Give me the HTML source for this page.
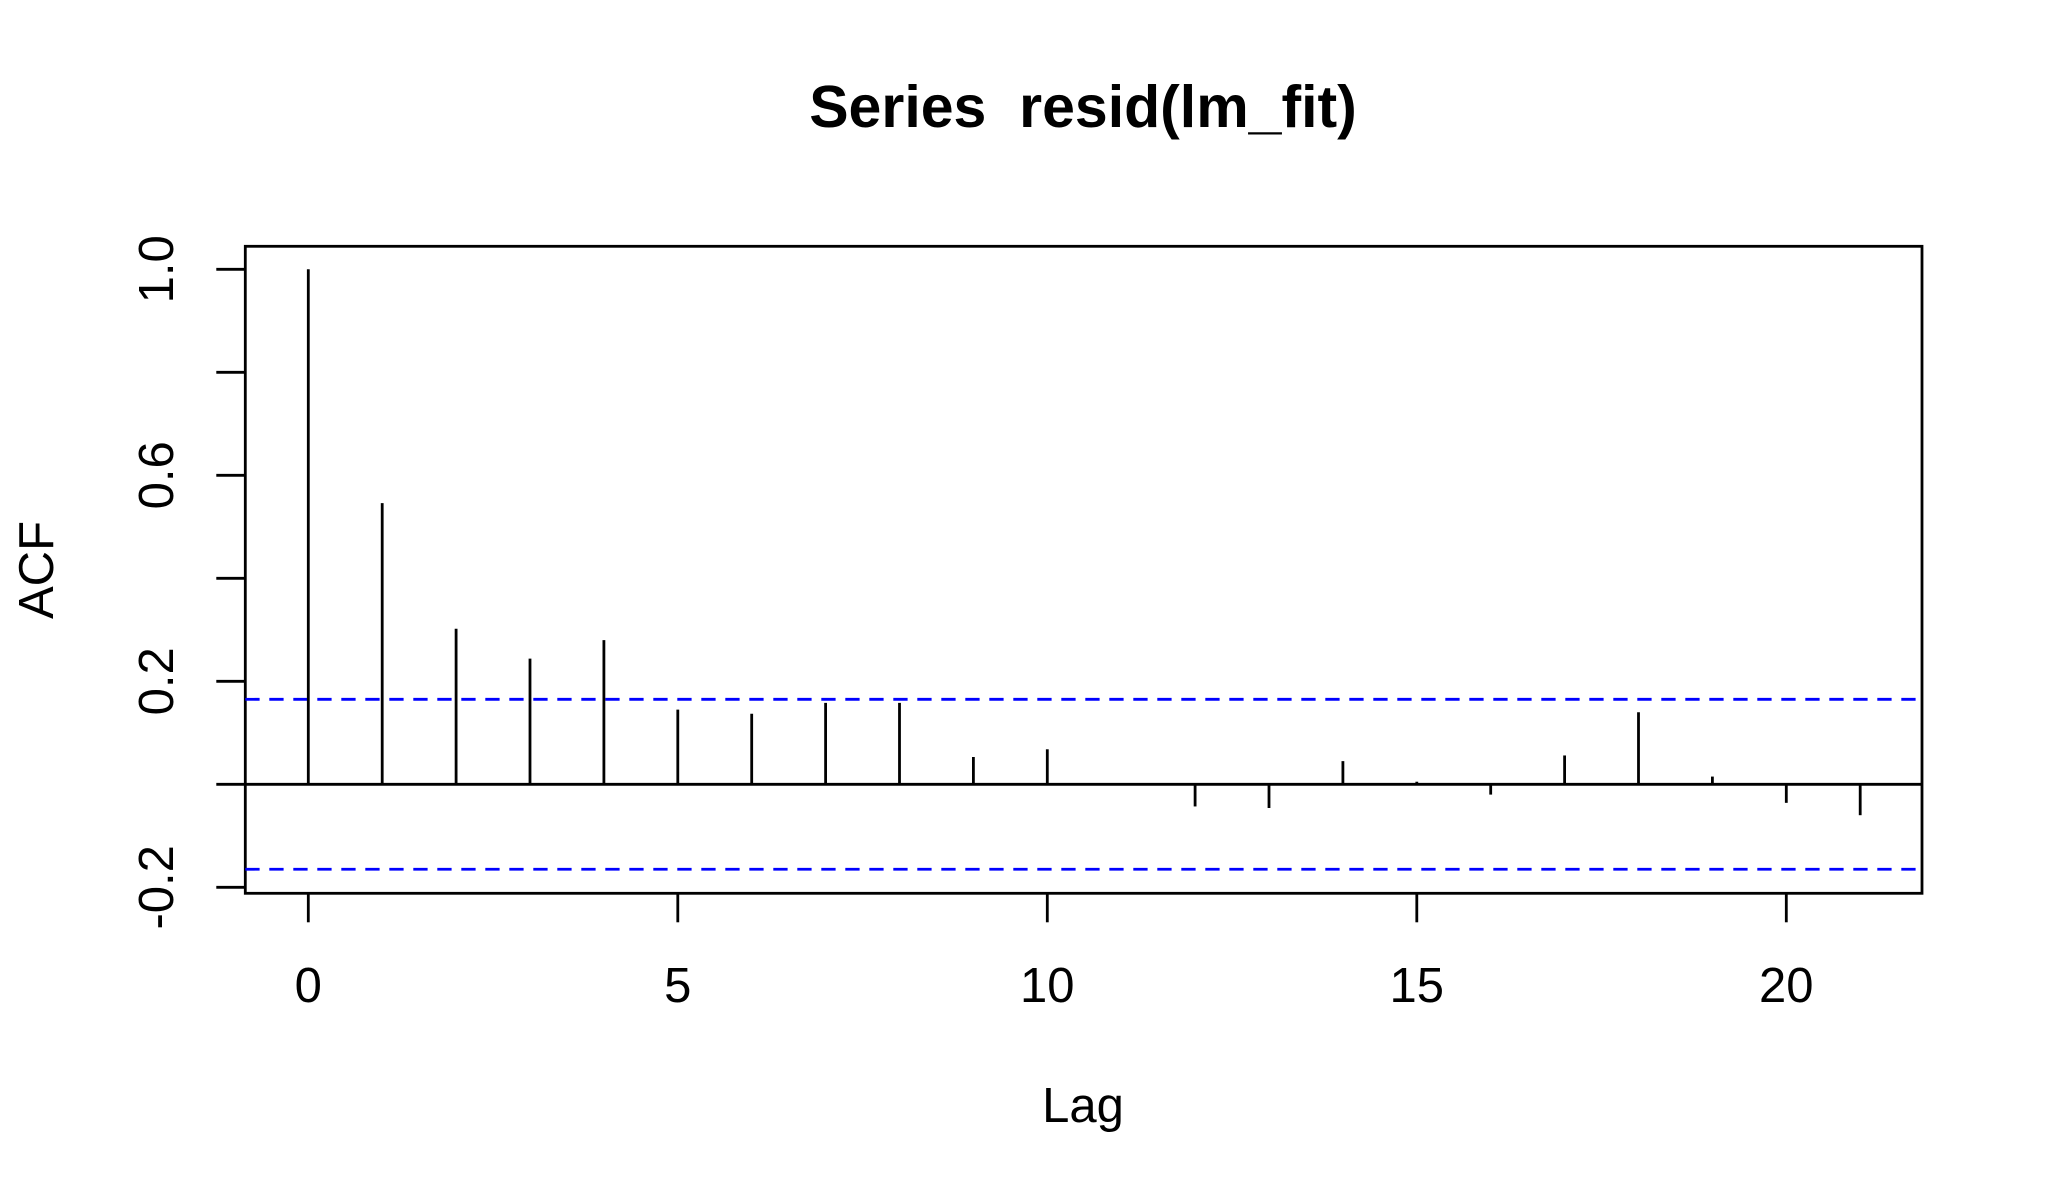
<!DOCTYPE html>
<html><head><meta charset="utf-8"><style>
html,body{margin:0;padding:0;background:#fff;}
svg{display:block;font-family:"Liberation Sans",Arial,sans-serif;}
</style></head><body>
<svg id="chart" width="2049" height="1200" viewBox="0 0 2049 1200" xmlns="http://www.w3.org/2000/svg">
<rect x="0" y="0" width="2049" height="1200" fill="#fff"/>
<text x="1083" y="127" font-size="59" font-weight="bold" text-anchor="middle" style="white-space:pre" xml:space="preserve">Series  resid(lm_fit)</text>
<text x="1083" y="1122" font-size="49" text-anchor="middle">Lag</text>
<text transform="translate(53,570) rotate(-90)" font-size="49" text-anchor="middle">ACF</text>
<g id="marks"></g>
</svg>
<script>
const lags = [0,1,2,3,4,5,6,7,8,9,10,11,12,13,14,15,16,17,18,19,20,21];
const acfValues = [1.0,0.546,0.302,0.244,0.280,0.145,0.137,0.158,0.158,0.053,0.068,0.002,-0.043,-0.046,0.045,0.005,-0.02,0.056,0.140,0.015,-0.036,-0.06];
const ciBound = [0.165];
const xTicks = [0,5,10,15,20];
const yTicks = [-0.2,0.2,0.6,1.0];
const yMinorTicks = [-0.2,0,0.2,0.4,0.6,0.8,1.0];

const NS = "http://www.w3.org/2000/svg";
const plotL = 245.3, plotR = 1922, plotT = 246.3, plotB = 893.3;
const SW = 2.8;
const xScale = v => 308.3 + v * 73.9;
const yScale = v => 784.3 - v * 515;
const g = document.getElementById('marks');
function mk(tag, attrs){ const e=document.createElementNS(NS,tag); for(const k in attrs) e.setAttribute(k,attrs[k]); g.appendChild(e); return e; }

const box = mk('rect',{x:plotL,y:plotT,width:plotR-plotL,height:plotB-plotT,fill:'none',stroke:'#000','stroke-width':SW});



const zl = mk('line',{x1:plotL,x2:plotR,y1:yScale(0),y2:yScale(0),stroke:'#000','stroke-width':SW});



[ciBound[0], -ciBound[0]].forEach((b,i)=>{
  const l = mk('line',{x1:plotL,x2:plotR,y1:yScale(b),y2:yScale(b),stroke:'#0000ff','stroke-width':SW,'stroke-dasharray':'14.3 9.7'});
  
  
});

lags.forEach((lag,i)=>{
  const l = mk('line',{x1:xScale(lag),x2:xScale(lag),y1:yScale(0),y2:yScale(acfValues[i]),stroke:'#000','stroke-width':SW});
  
  
});

xTicks.forEach(t=>{
  const l = mk('line',{x1:xScale(t),x2:xScale(t),y1:plotB,y2:plotB+29,stroke:'#000','stroke-width':SW});
  
  
  const tx = mk('text',{x:xScale(t),y:1002,'font-size':49,'text-anchor':'middle'});
  tx.textContent = String(t);
  
  
});

yMinorTicks.forEach(t=>{
  const l = mk('line',{x1:plotL-29,x2:plotL,y1:yScale(t),y2:yScale(t),stroke:'#000','stroke-width':SW});
  
  
});
yTicks.forEach(t=>{
  const tx = mk('text',{transform:'translate(173,'+yScale(t)+') rotate(-90)','font-size':49,'text-anchor':'middle'});
  tx.textContent = t.toFixed(1);
  
  
});
</script>
</body></html>
